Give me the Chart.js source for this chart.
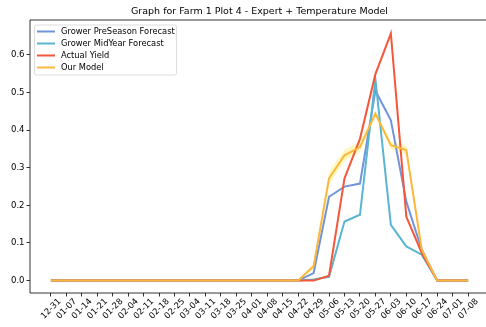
<!DOCTYPE html>
<html>
<head>
<meta charset="utf-8">
<script src="https://cdn.jsdelivr.net/npm/chart.js@4.4.0/dist/chart.umd.min.js"></script>
<style>
  html, body { margin: 0; padding: 0; background: #fff; overflow: hidden; }
  #wrap { position: relative; width: 486px; height: 327px; overflow: hidden; }
  #chart { position: absolute; left: 0; top: 0; }
</style>
</head>
<body>
<div id="wrap"><canvas id="chart" width="490" height="327"></canvas></div>
<script>
// weekly dates (MM-DD)
const weeks = ['12-31', '01-07', '01-14', '01-21', '01-28', '02-04', '02-11', '02-18', '02-25',
  '03-04', '03-11', '03-18', '03-25', '04-01', '04-08', '04-15', '04-22', '04-29', '05-06',
  '05-13', '05-20', '05-27', '06-03', '06-10', '06-17', '06-24', '07-01', '07-08'];

const preSeason = [0, 0, 0, 0, 0, 0, 0, 0, 0, 0, 0, 0, 0, 0, 0, 0,
  0, 0.02, 0.223, 0.25, 0.258, 0.505, 0.426, 0.21, 0.082, 0, 0, 0];
const midYear = [0, 0, 0, 0, 0, 0, 0, 0, 0, 0, 0, 0, 0, 0, 0, 0,
  0, 0.003, 0.01, 0.157, 0.175, 0.536, 0.148, 0.091, 0.069, 0, 0, 0];
const actual = [0, 0, 0, 0, 0, 0, 0, 0, 0, 0, 0, 0, 0, 0, 0, 0,
  0, 0, 0.013, 0.272, 0.377, 0.549, 0.657, 0.17, 0.073, 0, 0, 0];
const ourModel = [0, 0, 0, 0, 0, 0, 0, 0, 0, 0, 0, 0, 0, 0, 0, 0,
  0, 0.038, 0.272, 0.333, 0.355, 0.444, 0.36, 0.347, 0.082, 0, 0, 0];
// uncertainty band around our model
const modelLow = [0, 0, 0, 0, 0, 0, 0, 0, 0, 0, 0, 0, 0, 0, 0, 0,
  0, 0.03, 0.255, 0.318, 0.342, 0.436, 0.35, 0.335, 0.075, 0, 0, 0];
const modelHigh = [0, 0, 0, 0, 0, 0, 0, 0, 0, 0, 0, 0, 0, 0, 0, 0,
  0, 0.046, 0.29, 0.348, 0.37, 0.452, 0.37, 0.36, 0.09, 0, 0, 0];

const yTicks = [0, 0.1, 0.2, 0.3, 0.4, 0.5, 0.6];

const pts = arr => arr.map((v, i) => ({ x: i, y: v }));
const line = (label, data, color, order) => ({
  label, data: pts(data), borderColor: color, backgroundColor: color,
  borderWidth: 2, pointRadius: 0, tension: 0, fill: false, order
});

// spines: left, top, bottom (right one falls outside the picture)
const framePlugin = {
  id: 'frame',
  afterDraw(chart) {
    const { ctx, chartArea: a } = chart;
    ctx.save();
    ctx.strokeStyle = '#000';
    ctx.lineWidth = 0.8;
    ctx.beginPath();
    ctx.moveTo(chart.width, a.top);
    ctx.lineTo(a.left, a.top);
    ctx.lineTo(a.left, a.bottom);
    ctx.lineTo(chart.width, a.bottom);
    ctx.stroke();
    ctx.restore();
  }
};

const titlePlugin = {
  id: 'plotTitle',
  afterDraw(chart) {
    const { ctx, chartArea: a } = chart;
    ctx.save();
    ctx.font = '9.5px "DejaVu Sans"';
    ctx.fillStyle = '#000';
    ctx.textAlign = 'center';
    ctx.textBaseline = 'middle';
    ctx.fillText('Graph for Farm 1 Plot 4 - Expert + Temperature Model', (a.left + a.right) / 2, 12);
    ctx.restore();
  }
};

// legend inside the axes, upper left
const legendPlugin = {
  id: 'innerLegend',
  afterDraw(chart) {
    const { ctx, chartArea: a } = chart;
    const items = chart.data.datasets.filter(d => d.label);
    const x0 = a.left + 4.5, y0 = a.top + 5;
    const w = 142, h = 50;
    ctx.save();
    ctx.beginPath();
    ctx.roundRect(x0, y0, w, h, 2);
    ctx.fillStyle = 'rgba(255,255,255,0.85)';
    ctx.fill();
    ctx.strokeStyle = '#d4d4d4';
    ctx.lineWidth = 0.8;
    ctx.stroke();
    ctx.font = '8.3px "DejaVu Sans"';
    ctx.textBaseline = 'middle';
    items.forEach((d, i) => {
      const y = y0 + 6.5 + i * 12;
      ctx.strokeStyle = d.borderColor;
      ctx.lineWidth = 2;
      ctx.beginPath();
      ctx.moveTo(x0 + 2.5, y);
      ctx.lineTo(x0 + 20.5, y);
      ctx.stroke();
      ctx.fillStyle = '#000';
      ctx.fillText(d.label, x0 + 26.5, y);
    });
    ctx.restore();
  }
};

new Chart(document.getElementById('chart'), {
  type: 'line',
  data: {
    datasets: [
      line('Grower PreSeason Forecast', preSeason, '#7094d9', 4),
      line('Grower MidYear Forecast', midYear, '#5ab5d2', 3),
      line('Actual Yield', actual, '#f4573a', 2),
      line('Our Model', ourModel, '#fcb83e', 1),
      { data: pts(modelHigh), borderWidth: 0, pointRadius: 0, fill: '+1',
        backgroundColor: 'rgba(255, 240, 110, 0.45)', borderColor: 'rgba(0,0,0,0)', order: 5 },
      { data: pts(modelLow), borderWidth: 0, pointRadius: 0, fill: false,
        borderColor: 'rgba(0,0,0,0)', order: 6 }
    ]
  },
  options: {
    responsive: false,
    animation: false,
    layout: { padding: { top: 20, right: 1, left: 0, bottom: 0 } },
    plugins: { legend: { display: false }, title: { display: false }, tooltip: { enabled: false } },
    scales: {
      x: {
        type: 'linear',
        min: -1.35,
        max: 28.35,
        afterBuildTicks: s => { s.ticks = weeks.map((w, i) => ({ value: i })); },
        afterFit: s => { s.height = 34; s.paddingLeft = 0; s.paddingRight = 0; },
        ticks: {
          callback: v => weeks[v],
          autoSkip: false,
          maxRotation: 45,
          minRotation: 45,
          labelOffset: 9,
          padding: 0,
          color: '#000',
          font: { family: 'DejaVu Sans', size: 8.5 }
        },
        grid: { drawOnChartArea: false, drawTicks: true, tickLength: 3.5, color: '#000', lineWidth: 0.8 },
        border: { display: false }
      },
      y: {
        min: -0.033,
        max: 0.693,
        afterBuildTicks: s => { s.ticks = yTicks.map(v => ({ value: v })); },
        afterFit: s => { s.width = 30; s.paddingTop = 0; s.paddingBottom = 0; },
        ticks: {
          callback: v => v.toFixed(1),
          padding: 2,
          color: '#000',
          font: { family: 'DejaVu Sans', size: 8.5 }
        },
        grid: { drawOnChartArea: false, drawTicks: true, tickLength: 3.5, color: '#000', lineWidth: 0.8 },
        border: { display: false }
      }
    }
  },
  plugins: [framePlugin, titlePlugin, legendPlugin]
});
</script>
</body>
</html>
